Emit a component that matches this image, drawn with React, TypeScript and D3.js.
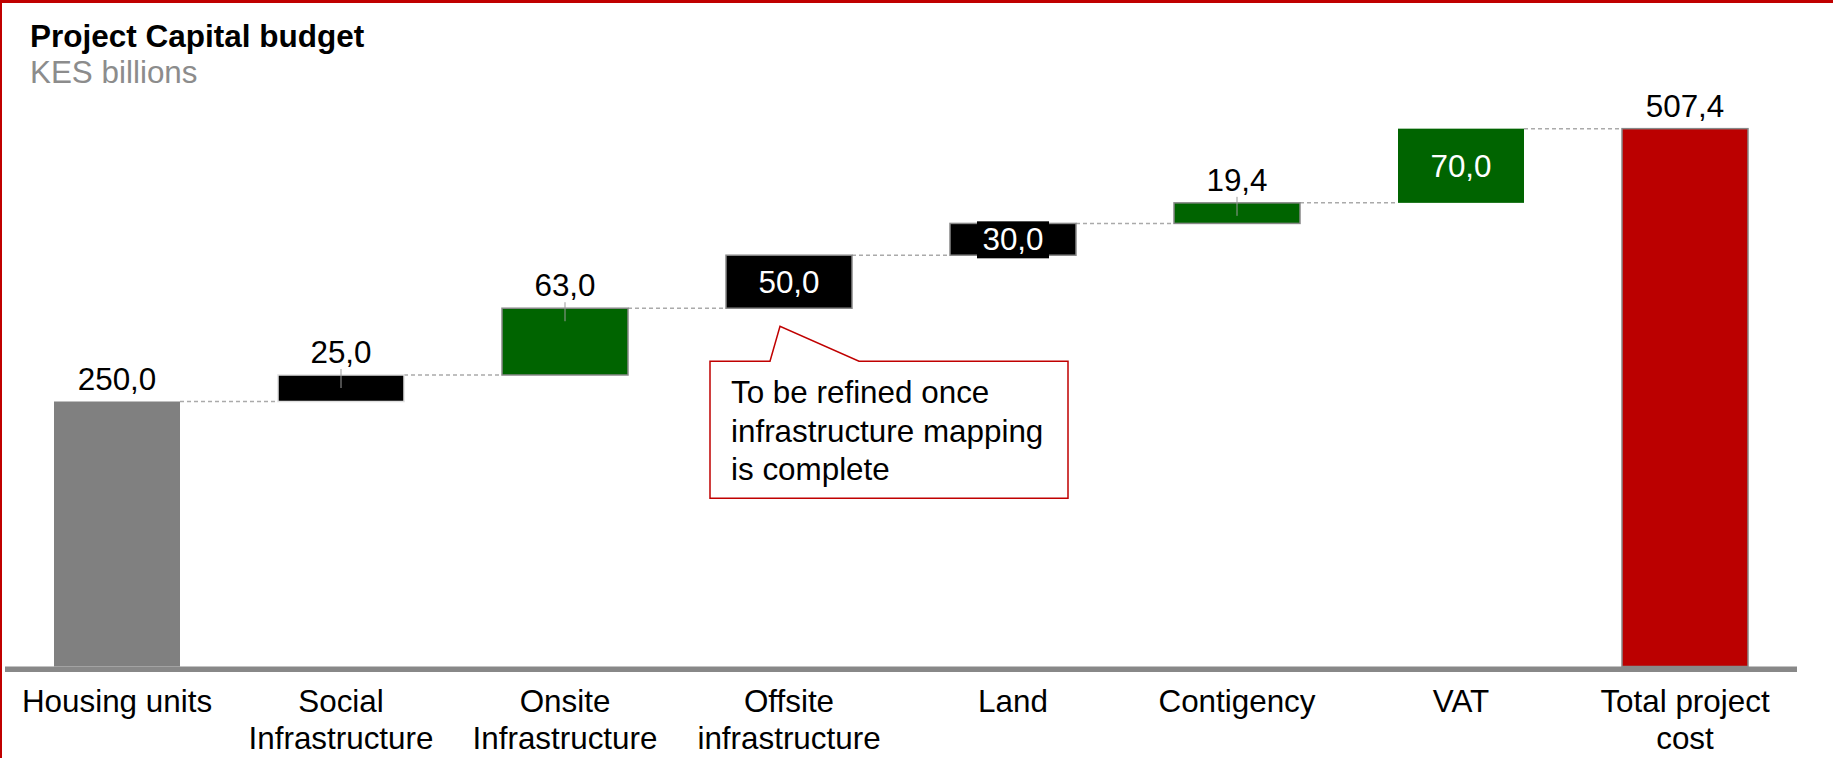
import React from "react";
import * as d3 from "d3";

const categories: string[][] = [
  ["Housing units"],
  ["Social", "Infrastructure"],
  ["Onsite", "Infrastructure"],
  ["Offsite", "infrastructure"],
  ["Land"],
  ["Contigency"],
  ["VAT"],
  ["Total project", "cost"],
];
const values: number[] = [250.0, 25.0, 63.0, 50.0, 30.0, 19.4, 70.0, 507.4];
const kinds: string[] = ["total", "delta", "delta", "delta", "delta", "delta", "delta", "total"];
const valueLabels: string[] = ["250,0", "25,0", "63,0", "50,0", "30,0", "19,4", "70,0", "507,4"];
const labelPlacement: string[] = ["above", "above", "above", "inside", "insideBox", "above", "inside", "above"];
const leaders: boolean[] = [false, true, true, false, false, true, false, false];
const fills: string[] = ["#808080", "#000000", "#006400", "#000000", "#000000", "#006400", "#006400", "#BB0000"];
const strokes: string[] = ["none", "#e0e0e0", "#888888", "#888888", "#888888", "#888888", "none", "#888888"];
const title = "Project Capital budget";
const subtitle = "KES billions";
const calloutLines: string[] = ["To be refined once", "infrastructure mapping", "is complete"];

const W = 1833;
const H = 758;
const FONT = "'Liberation Sans', Arial, Helvetica, sans-serif";
const FS = 31.4;

export default function App() {
  const x = d3
    .scaleBand<number>()
    .domain(values.map((_, i) => i))
    .range([5, 1797])
    .paddingInner(0.4375)
    .paddingOuter(0.21875);
  const y = d3.scaleLinear().domain([0, 600]).range([666.5, 666.5 - 636]);

  // compute waterfall starts/ends
  let cum = 0;
  const bars = values.map((v, i) => {
    let start: number, end: number;
    if (kinds[i] === "total") {
      start = 0;
      end = v;
      cum = v;
    } else {
      start = cum;
      end = cum + v;
      cum = end;
    }
    return { i, v, start, end };
  });

  const bw = x.bandwidth();

  // callout geometry anchored to offsite bar
  const offX = x(3)!;
  const offBottom = y(bars[3].start);
  const boxL = offX - 16;
  const boxR = boxL + 358;
  const boxT = offBottom + 53;
  const boxB = boxT + 137;
  const tipX = offX + 54;
  const tipY = offBottom + 18;
  const calloutPath = d3.path();
  calloutPath.moveTo(boxL, boxT);
  calloutPath.lineTo(offX + 44, boxT);
  calloutPath.lineTo(tipX, tipY);
  calloutPath.lineTo(offX + 133, boxT);
  calloutPath.lineTo(boxR, boxT);
  calloutPath.lineTo(boxR, boxB);
  calloutPath.lineTo(boxL, boxB);
  calloutPath.closePath();

  return (
    <svg
      width={W}
      height={H}
      style={{ position: "absolute", left: 0, top: 0, background: "#fff" }}
      fontFamily={FONT}
    >
      <rect x={0} y={0} width={W} height={H} fill="#fff" />
      {/* frame */}
      <rect x={0} y={0} width={W} height={3} fill="#C00000" />
      <rect x={0} y={0} width={2} height={H} fill="#C00000" />

      <text x={30} y={46.7} fontSize={31.5} fontWeight="bold" fill="#000">
        {title}
      </text>
      <text x={30} y={83} fontSize={FS} fill="#8c8c8c">
        {subtitle}
      </text>

      {/* connectors */}
      {bars.slice(0, -1).map((b) => {
        const lvl = b.end;
        return (
          <line
            key={"c" + b.i}
            x1={x(b.i)! + bw}
            x2={x(b.i + 1)!}
            y1={y(lvl)}
            y2={y(lvl)}
            stroke="#aaaaaa"
            strokeWidth={1.5}
            strokeDasharray="4,3"
          />
        );
      })}

      {/* bars */}
      {bars.map((b) => {
        const top = y(Math.max(b.start, b.end));
        const bot = y(Math.min(b.start, b.end));
        return (
          <rect
            key={"b" + b.i}
            x={x(b.i)!}
            y={top}
            width={bw}
            height={bot - top}
            fill={fills[b.i]}
            stroke={strokes[b.i]}
            strokeWidth={strokes[b.i] === "none" ? 0 : 1.5}
          />
        );
      })}

      {/* axis baseline */}
      <rect x={5} y={666.5} width={1792} height={5.5} fill="#888888" />

      {/* value labels */}
      {bars.map((b) => {
        const cx = x(b.i)! + bw / 2;
        const top = y(b.end);
        const bot = y(b.start);
        const place = labelPlacement[b.i];
        if (place === "above") {
          return (
            <g key={"l" + b.i}>
              {leaders[b.i] && (
                <line x1={cx} x2={cx} y1={top - 6} y2={top + 13} stroke="#999999" strokeWidth={1} />
              )}
              <text x={cx} y={top - 12} fontSize={FS} textAnchor="middle" fill="#000">
                {valueLabels[b.i]}
              </text>
            </g>
          );
        }
        const mid = (top + bot) / 2;
        return (
          <g key={"l" + b.i}>
            {place === "insideBox" && (
              <rect x={cx - 36} y={mid - 18} width={72} height={37} fill="#000" />
            )}
            <text
              x={cx}
              y={mid + 11}
              fontSize={FS}
              textAnchor="middle"
              fill="#fff"
            >
              {valueLabels[b.i]}
            </text>
          </g>
        );
      })}

      {/* category labels */}
      {categories.map((lines, i) => (
        <text key={"cat" + i} fontSize={FS} textAnchor="middle" fill="#000">
          {lines.map((ln, j) => (
            <tspan key={j} x={x(i)! + bw / 2} y={711.7 + j * 37.3}>
              {ln}
            </tspan>
          ))}
        </text>
      ))}

      {/* callout */}
      <path d={calloutPath.toString()} fill="#fff" stroke="#C00000" strokeWidth={1.5} />
      {calloutLines.map((ln, j) => (
        <text key={"co" + j} x={boxL + 21} y={boxT + 42 + j * 38.3} fontSize={FS} fill="#000">
          {ln}
        </text>
      ))}
    </svg>
  );
}
